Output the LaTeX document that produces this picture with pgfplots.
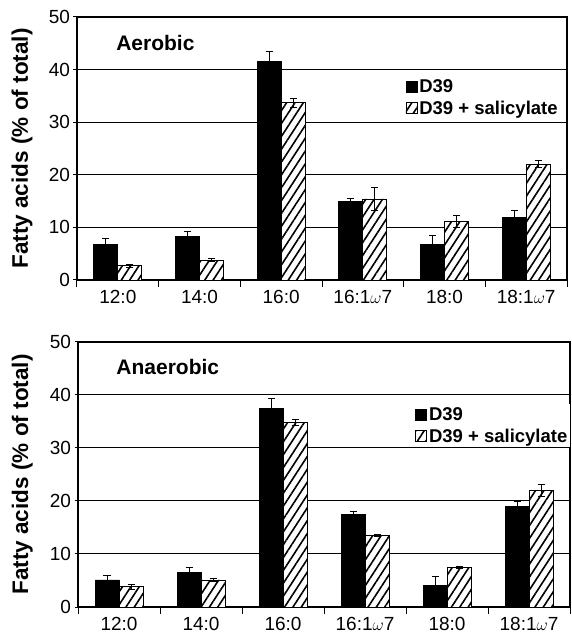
\documentclass[border=0pt]{standalone}
\usepackage{fontspec}
\setmainfont{Liberation Sans}
\usepackage{pgfplots}
\pgfplotsset{compat=1.18}
\usetikzlibrary{patterns.meta}
\pgfplotsset{
  fa/.style={
    scale only axis,
    ybar=0pt, bar width=24pt,
    ymin=0, ymax=50, ytick={0,10,...,50},
    xmin=-0.5, xmax=5.5,
    xtick={0,...,5},
    xticklabels={12:0,14:0,16:0,16:1$\omega$7,18:0,18:1$\omega$7},
    major x tick style={draw=none},
    minor xtick={-0.5,0.5,...,5.5},
    minor tick length=7pt, major tick length=7pt,
    tick pos=left,
    xtick align=outside, ytick align=center,
    ymajorgrids, grid style={black, line width=1pt},
    axis line style={line width=1.2pt},
    tick style={black, line width=1pt},
    ticklabel style={font=\fontsize{19}{19}\selectfont},
    /pgf/number format/assume math mode=true,
    ylabel={Fatty acids (\% of total)},
    ylabel style={font=\bfseries\fontsize{22.5}{22.5}\selectfont},
    legend style={draw=none, fill=white, inner sep=1pt,
      font=\bfseries\fontsize{18.5}{18.5}\selectfont, row sep=3pt},
    legend cell align=left,
    legend image code/.code={\draw[#1] (0pt,-5.5pt) rectangle (11pt,5.5pt);},
    error bars/y dir=both, error bars/y explicit,
    error bars/error bar style={line width=1pt, black},
    error bars/error mark options={rotate=90, mark size=3.5pt, line width=1pt, black},
  },
  blk/.style={fill=black, draw=black, line width=0.8pt},
  hat/.style={draw=black, line width=0.8pt, fill=white,
    postaction={pattern={Lines[angle=57,distance=7pt,line width=1.6pt]}, pattern color=black}},
}
\begin{document}
\begin{tikzpicture}
\useasboundingbox (0,0) rectangle (572pt,634pt);
\begin{axis}[fa, at={(77pt,354pt)}, anchor=south west, width=490pt, height=263pt,
  ylabel style={at={(axis description cs:-0.112,0.5)}, anchor=center},
  legend style={at={(0.668,0.775)}, anchor=north west}]
\addplot[blk] coordinates {(0,6.7) +- (0,1.1) (1,8.2) +- (0,1.1) (2,41.6) +- (0,1.9) (3,15.0) +- (0,0.5) (4,6.8) +- (0,1.7) (5,11.9) +- (0,1.3)};
\addplot[hat] coordinates {(0,2.7) +- (0,0.3) (1,3.8) +- (0,0.3) (2,33.7) +- (0,0.9) (3,15.4) +- (0,2.2) (4,11.1) +- (0,1.1) (5,22.0) +- (0,0.7)};
\legend{D39, D39 + salicylate}
\node[anchor=west, font=\bfseries\fontsize{21}{21}\selectfont] at (rel axis cs:0.073,0.9) {Aerobic};
\end{axis}
\begin{axis}[fa, at={(78pt,27pt)}, anchor=south west, width=492pt, height=265pt,
  ylabel style={at={(axis description cs:-0.113,0.5)}, anchor=center},
  legend style={at={(0.683,0.765)}, anchor=north west}]
\addplot[blk] coordinates {(0,5.1) +- (0,0.8) (1,6.5) +- (0,1.0) (2,37.5) +- (0,1.9) (3,17.5) +- (0,0.5) (4,4.1) +- (0,1.6) (5,18.9) +- (0,1.0)};
\addplot[hat] coordinates {(0,3.8) +- (0,0.5) (1,5.1) +- (0,0.3) (2,34.8) +- (0,0.6) (3,13.5) +- (0,0.2) (4,7.5) +- (0,0.2) (5,22.0) +- (0,1.2)};
\legend{D39, D39 + salicylate}
\node[anchor=west, font=\bfseries\fontsize{21}{21}\selectfont] at (rel axis cs:0.071,0.906) {Anaerobic};
\end{axis}
\end{tikzpicture}
\end{document}
